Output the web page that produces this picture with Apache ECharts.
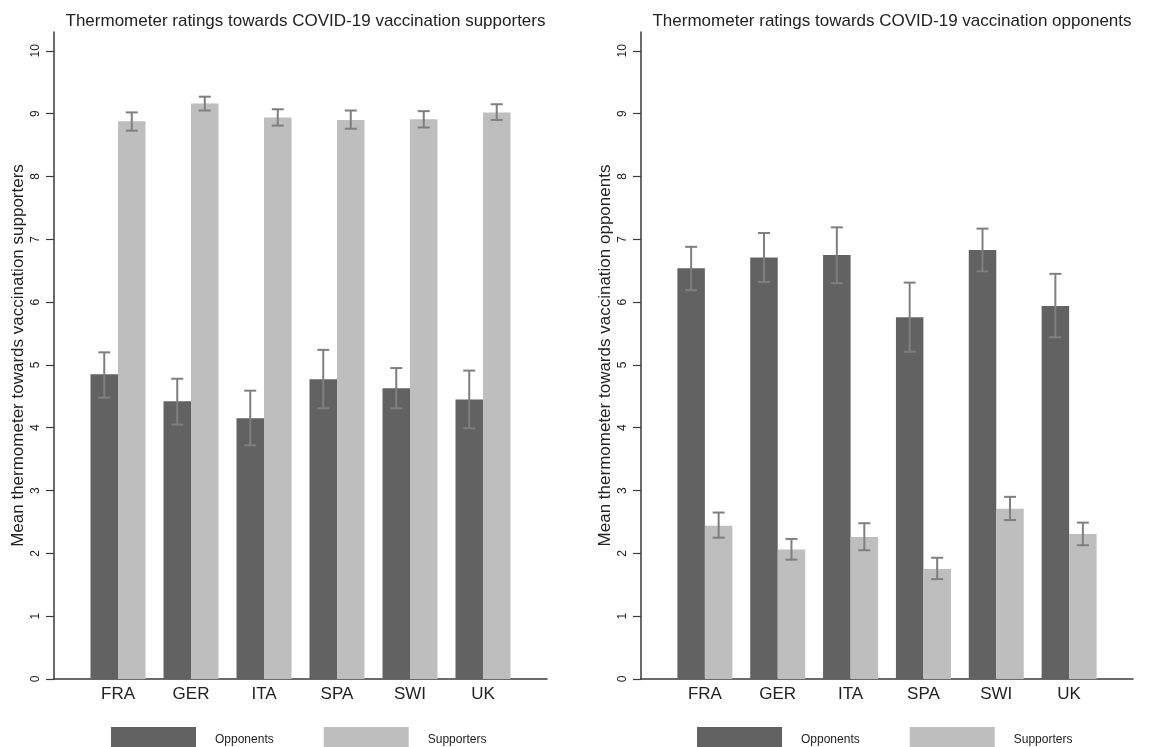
<!DOCTYPE html>
<html>
<head>
<meta charset="utf-8">
<script src="https://cdn.jsdelivr.net/npm/echarts@6/dist/echarts.min.js"></script>
<style>
html,body{margin:0;padding:0;background:#fff;}
#chart{width:1157px;height:747px;}
</style>
</head>
<body>
<div id="chart"></div>
<script>
// ---- data ----
const categories = ['FRA', 'GER', 'ITA', 'SPA', 'SWI', 'UK'];
const yTicks = [0, 1, 2, 3, 4, 5, 6, 7, 8, 9, 10];
const seriesNames = ['Opponents', 'Supporters'];
const titles = ['Thermometer ratings towards COVID-19 vaccination supporters',
                'Thermometer ratings towards COVID-19 vaccination opponents'];
const yNames = ['Mean thermometer towards vaccination supporters',
                'Mean thermometer towards vaccination opponents'];

// Chart 1: ratings towards vaccination supporters
const supRatingByOpp = [4.85, 4.42, 4.15, 4.77, 4.63, 4.45];
const supRatingByOppLow = [4.48, 4.05, 3.72, 4.31, 4.31, 3.99];
const supRatingByOppHigh = [5.20, 4.78, 4.59, 5.24, 4.95, 4.91];
const supRatingBySup = [8.88, 9.16, 8.94, 8.90, 8.91, 9.02];
const supRatingBySupLow = [8.73, 9.05, 8.81, 8.76, 8.78, 8.90];
const supRatingBySupHigh = [9.02, 9.27, 9.07, 9.05, 9.04, 9.15];

// Chart 2: ratings towards vaccination opponents
const oppRatingByOpp = [6.54, 6.71, 6.75, 5.76, 6.83, 5.94];
const oppRatingByOppLow = [6.19, 6.32, 6.30, 5.21, 6.49, 5.44];
const oppRatingByOppHigh = [6.88, 7.10, 7.19, 6.31, 7.17, 6.45];
const oppRatingBySup = [2.44, 2.06, 2.26, 1.75, 2.71, 2.31];
const oppRatingBySupLow = [2.25, 1.90, 2.05, 1.59, 2.53, 2.13];
const oppRatingBySupHigh = [2.65, 2.23, 2.48, 1.93, 2.90, 2.49];

// ---- styles ----
const FONT = '"Liberation Sans", Arial, sans-serif';
const DARK = '#626262';
const LIGHT = '#bebebe';
const ERR = '#7f7f7f';
const AXIS = '#3a3a3a';
const TEXT = '#222';
const BAR_W = 27.5;
const CAP_W = 12;
const PAD = 0.877;

const grids = [
  {left: 54, top: 32, width: 493, bottom: 68},
  {left: 641, top: 32, width: 492, bottom: 68}
];

function pts(arr) { return categories.map((c, i) => [i, arr[i]]); }
function errPts(lo, hi) { return categories.map((c, i) => [i, lo[i], hi[i]]); }

function errSeries(idx, lo, hi, side) {
  return {
    type: 'custom',
    xAxisIndex: idx, yAxisIndex: idx,
    z: 5,
    silent: true,
    data: errPts(lo, hi),
    renderItem: function (params, api) {
      const x = api.value(0);
      const pLo = api.coord([x, api.value(1)]);
      const pHi = api.coord([x, api.value(2)]);
      const cx = pLo[0] + side * BAR_W / 2;
      const st = {stroke: ERR, lineWidth: 2};
      return {
        type: 'group',
        children: [
          {type: 'line', shape: {x1: cx, y1: pLo[1], x2: cx, y2: pHi[1]}, style: st},
          {type: 'line', shape: {x1: cx - CAP_W / 2, y1: pLo[1], x2: cx + CAP_W / 2, y2: pLo[1]}, style: st},
          {type: 'line', shape: {x1: cx - CAP_W / 2, y1: pHi[1], x2: cx + CAP_W / 2, y2: pHi[1]}, style: st}
        ]
      };
    }
  };
}

const xAxes = grids.map((g, i) => ({
  type: 'value', gridIndex: i,
  min: -PAD, max: categories.length - 1 + PAD,
  axisLine: {show: true, onZero: false, lineStyle: {color: AXIS, width: 1.5}},
  axisTick: {show: false},
  splitLine: {show: false},
  axisLabel: {
    customValues: categories.map((c, k) => k),
    formatter: v => categories[Math.round(v)] || '',
    color: TEXT, fontSize: 17, fontFamily: FONT, margin: 7
  }
}));

const yAxes = grids.map((g, i) => ({
  type: 'value', gridIndex: i,
  min: 0, max: 10.3,
  name: yNames[i], nameLocation: 'middle', nameGap: 27,
  nameTextStyle: {fontSize: 17, color: TEXT, fontFamily: FONT},
  axisLine: {show: true, onZero: false, lineStyle: {color: AXIS, width: 1.5}},
  axisTick: {show: true, length: 8, customValues: yTicks, lineStyle: {color: AXIS, width: 1.2}},
  splitLine: {show: false},
  axisLabel: {customValues: yTicks, rotate: 90, color: TEXT, fontSize: 12, fontFamily: FONT, margin: 12}
}));

const option = {
  animation: false,
  backgroundColor: '#fff',
  title: titles.map((t, i) => ({
    text: t,
    left: grids[i].left + grids[i].width / 2,
    textAlign: 'center',
    top: 8,
    textStyle: {fontSize: 17, fontWeight: 'normal', color: TEXT, fontFamily: FONT}
  })),
  legend: [106, 692].map(l => ({
    data: seriesNames,
    left: l, top: 722,
    icon: 'rect',
    itemWidth: 85, itemHeight: 26, itemGap: 50,
    textStyle: {fontSize: 12, color: TEXT, fontFamily: FONT, padding: [0, 0, 0, 14]}
  })),
  grid: grids,
  xAxis: xAxes,
  yAxis: yAxes,
  series: [
    {name: seriesNames[0], type: 'bar', xAxisIndex: 0, yAxisIndex: 0, barWidth: BAR_W, barGap: '0%',
     itemStyle: {color: DARK}, data: pts(supRatingByOpp)},
    {name: seriesNames[1], type: 'bar', xAxisIndex: 0, yAxisIndex: 0, barWidth: BAR_W, barGap: '0%',
     itemStyle: {color: LIGHT}, data: pts(supRatingBySup)},
    errSeries(0, supRatingByOppLow, supRatingByOppHigh, -1),
    errSeries(0, supRatingBySupLow, supRatingBySupHigh, 1),
    {name: seriesNames[0], type: 'bar', xAxisIndex: 1, yAxisIndex: 1, barWidth: BAR_W, barGap: '0%',
     itemStyle: {color: DARK}, data: pts(oppRatingByOpp)},
    {name: seriesNames[1], type: 'bar', xAxisIndex: 1, yAxisIndex: 1, barWidth: BAR_W, barGap: '0%',
     itemStyle: {color: LIGHT}, data: pts(oppRatingBySup)},
    errSeries(1, oppRatingByOppLow, oppRatingByOppHigh, -1),
    errSeries(1, oppRatingBySupLow, oppRatingBySupHigh, 1)
  ]
};

const chart = echarts.init(document.getElementById('chart'), null, {renderer: 'canvas'});
chart.setOption(option);
</script>
</body>
</html>
